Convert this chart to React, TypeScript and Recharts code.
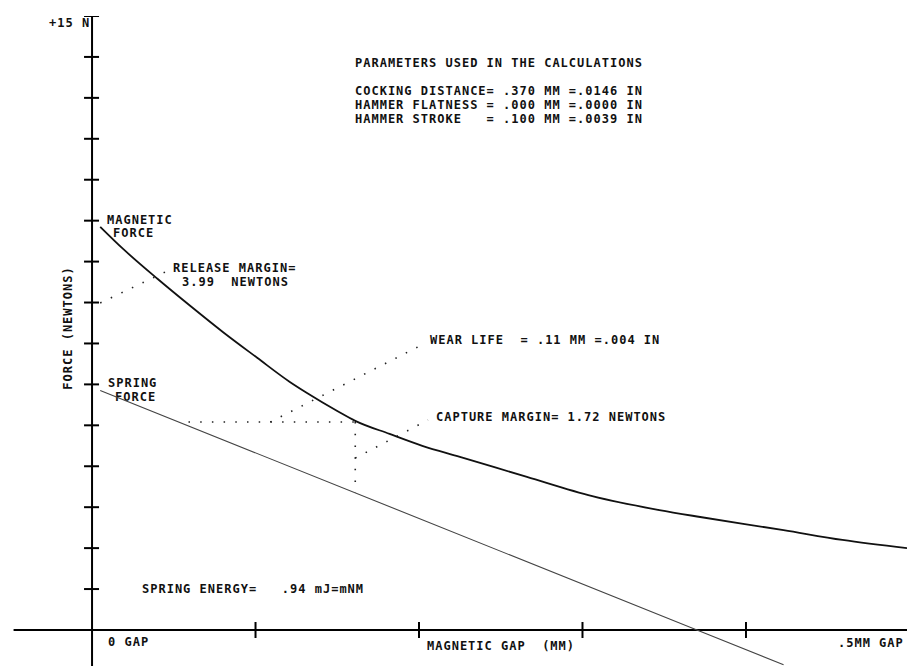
import React from "react";
import { ComposedChart, Line, Scatter, XAxis, YAxis, ReferenceLine } from "recharts";

// magnetic gap (mm) vs force (N)
const magneticGap = [0.005, 0.019, 0.040, 0.060, 0.080, 0.101, 0.121, 0.1315, 0.150, 0.161, 0.182, 0.202, 0.225, 0.266, 0.306, 0.347, 0.372, 0.423, 0.459, 0.4985];
const magneticForce = [9.85, 9.31, 8.58, 7.92, 7.28, 6.65, 6.06, 5.79, 5.35, 5.11, 4.79, 4.50, 4.23, 3.74, 3.27, 2.93, 2.76, 2.44, 2.20, 2.00];

const springGap = [0.005, 0.37, 0.423];
const springForce = [5.85, 0, -0.85];

// dotted construction lines
const releaseLeader = [[0.005, 7.99], [0.045, 8.75]];
const wearSpan = [[0.059, 5.08], [0.161, 5.08]];
const captureSpan = [[0.161, 5.08], [0.161, 3.36]];
const wearLeader = [[0.109, 5.08], [0.204, 7.01]];
const captureLeader = [[0.161, 4.2], [0.2055, 5.13]];

const forceTicks = [1, 2, 3, 4, 5, 6, 7, 8, 9, 10, 11, 12, 13, 14, 15];
const gapTicks = [0.1, 0.2, 0.3, 0.4];

const paramLines = [
  "COCKING DISTANCE= .370 MM =.0146 IN",
  "HAMMER FLATNESS = .000 MM =.0000 IN",
  "HAMMER STROKE   = .100 MM =.0039 IN",
];

const toPts = (gs: number[], fs: number[]) => gs.map((g, i) => ({ g, f: fs[i] }));
const pairPts = (p: number[][]) => p.map(([g, f]) => ({ g, f }));

const font = {
  fontFamily: "'DejaVu Sans Mono', monospace",
  fontSize: 12,
  fontWeight: 700,
  letterSpacing: 1.0,
  fill: "#111",
  whiteSpace: "pre" as const,
};

const YTick = (p: any) => (
  <line x1={p.cx - 8} x2={p.cx + 7} y1={p.cy} y2={p.cy} stroke="#000" strokeWidth={2} />
);
const XTick = (p: any) => (
  <line x1={p.cx} x2={p.cx} y1={p.cy - 8} y2={p.cy + 8} stroke="#000" strokeWidth={2} />
);

const dotted = { stroke: "#222", strokeWidth: 1.6, strokeDasharray: "1.5 10.2", dot: false, activeDot: false, isAnimationActive: false, type: "linear" as const };

const T = ({ x, y, children }: { x: number; y: number; children: string }) => (
  <text x={x} y={y} style={font}>{children}</text>
);

export default function App() {
  return (
    <div style={{ position: "absolute", left: 0, top: 0, background: "#fff" }}>
      <ComposedChart width={907} height={666} margin={{ top: 16, right: 0, bottom: 0, left: 0 }}>
        <XAxis type="number" dataKey="g" domain={[-0.0563, 0.4985]} allowDataOverflow hide />
        <YAxis type="number" dataKey="f" domain={[-0.88, 15]} allowDataOverflow hide />

        <ReferenceLine x={0} stroke="#000" strokeWidth={2} />
        <ReferenceLine segment={[{ x: -0.048, y: 0 }, { x: 0.4985, y: 0 }]} stroke="#000" strokeWidth={2} />

        <Scatter data={forceTicks.map((f) => ({ g: 0, f }))} shape={YTick} isAnimationActive={false} />
        <Scatter data={gapTicks.map((g) => ({ g, f: 0 }))} shape={XTick} isAnimationActive={false} />

        <Line data={pairPts(releaseLeader)} dataKey="f" {...dotted} />
        <Line data={pairPts(wearSpan)} dataKey="f" {...dotted} />
        <Line data={pairPts(captureSpan)} dataKey="f" {...dotted} />
        <Line data={pairPts(wearLeader)} dataKey="f" {...dotted} />
        <Line data={pairPts(captureLeader)} dataKey="f" {...dotted} />

        <Line data={toPts(springGap, springForce)} dataKey="f" type="linear" stroke="#444" strokeWidth={1.1} dot={false} activeDot={false} isAnimationActive={false} />
        <Line data={toPts(magneticGap, magneticForce)} dataKey="f" type="monotone" stroke="#111" strokeWidth={1.8} dot={false} activeDot={false} isAnimationActive={false} />

        <T x={49} y={27}>+15 N</T>
        <T x={355} y={67}>PARAMETERS USED IN THE CALCULATIONS</T>
        {paramLines.map((s, i) => (
          <T key={s} x={355} y={95 + i * 14}>{s}</T>
        ))}
        <T x={107} y={224}>MAGNETIC</T>
        <T x={113} y={237}>FORCE</T>
        <T x={173} y={272}>RELEASE MARGIN=</T>
        <T x={182} y={286}>3.99  NEWTONS</T>
        <T x={108} y={387}>SPRING</T>
        <T x={115} y={401}>FORCE</T>
        <T x={430} y={344}>WEAR LIFE  = .11 MM =.004 IN</T>
        <T x={436} y={421}>CAPTURE MARGIN= 1.72 NEWTONS</T>
        <T x={142} y={593}>SPRING ENERGY=   .94 mJ=mNM</T>
        <T x={108} y={646}>0 GAP</T>
        <T x={427} y={650}>MAGNETIC GAP  (MM)</T>
        <T x={838} y={647}>.5MM GAP</T>
        <text transform="translate(72,328) rotate(-90)" textAnchor="middle" style={font}>FORCE (NEWTONS)</text>
      </ComposedChart>
    </div>
  );
}
